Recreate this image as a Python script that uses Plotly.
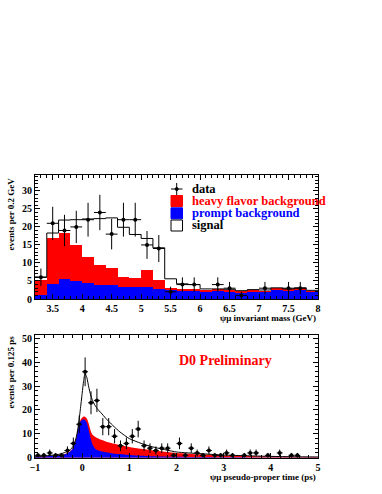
import numpy as np
import plotly.graph_objects as go

# ---- top panel: psi-mu invariant mass, 0.2 GeV bins from 3.2 to 8.0 ----
mass_centers = [3.3, 3.5, 3.7, 3.9, 4.1, 4.3, 4.5, 4.7, 4.9, 5.1, 5.3, 5.5,
                5.7, 5.9, 6.1, 6.3, 6.5, 6.7, 6.9, 7.1, 7.3, 7.5, 7.7, 7.9]
prompt_mass = [1.2, 4.2, 5.6, 4.9, 4.4, 3.8, 4.0, 3.3, 3.2, 3.2, 2.9, 2.6,
               2.3, 2.3, 2.1, 2.3, 2.2, 1.8, 2.2, 2.0, 2.7, 2.3, 2.7, 2.0]
heavy_mass = [4.2, 12.7, 12.7, 10.2, 7.3, 5.5, 4.5, 2.7, 2.6, 4.9, 2.5, 0.5,
              0.2, 0.2, 0.2, 0.2, 0.2, 0.2, 0.2, 0.2, 0.2, 0.2, 0.2, 0.2]
signal_mass = [0.7, 1.4, 3.6, 6.9, 10.5, 13.0, 14.0, 13.9, 12.1, 8.7, 8.8, 2.5,
               1.7, 1.5, 0.5, 0.3, 0.3, 0.3, 0.2, 0.3, 0.2, 0.3, 0.2, 0.2]
data_mass = [6, 21, 19, 20, 22, 24, 18, 22, 22, 15, 14, 2,
             4, 4, None, 4, 3, 1, None, 3, None, 3, 3, None]

# ---- bottom panel: pseudo-proper time ----
t_curve = [-1.0, -0.75, -0.5, -0.35, -0.25, -0.18, -0.12, -0.08, -0.04, 0.0,
           0.03, 0.06, 0.1, 0.14, 0.18, 0.22, 0.27, 0.33, 0.4, 0.5, 0.65,
           0.8, 1.0, 1.25, 1.5, 2.0, 2.5, 3.0, 3.5, 4.0, 4.5, 5.0]
prompt_t = [0.3, 0.6, 0.9, 1.6, 2.6, 4.6, 8.5, 12.5, 15.0, 15.9,
            16.1, 15.8, 14.5, 11.5, 8.2, 5.5, 3.9, 3.1, 2.7, 2.3, 1.8,
            1.5, 1.1, 0.8, 0.6, 0.35, 0.25, 0.15, 0.1, 0.08, 0.05, 0.04]
background_t = [0.35, 0.65, 1.0, 1.7, 2.7, 4.8, 8.8, 13.0, 15.6, 16.8,
                17.3, 17.2, 16.4, 14.2, 11.3, 9.6, 8.8, 8.1, 7.5, 6.8, 6.0,
                5.3, 4.5, 3.7, 3.0, 2.0, 1.4, 0.95, 0.7, 0.5, 0.35, 0.25]
total_t = [0.4, 0.8, 1.4, 2.3, 3.4, 5.2, 9.0, 13.5, 20.0, 27.0,
           32.0, 35.3, 33.5, 29.5, 26.3, 24.0, 22.0, 20.3, 18.8, 16.5, 13.5,
           10.8, 8.0, 6.0, 4.5, 2.4, 1.7, 1.1, 0.8, 0.55, 0.4, 0.3]
t_centers = [-0.9375, -0.8125, -0.6875, -0.5625, -0.4375, -0.3125, -0.1875,
             -0.0625, 0.0625, 0.1875, 0.3125, 0.4375, 0.5625, 0.6875, 0.8125,
             0.9375, 1.0625, 1.1875, 1.3125, 1.4375, 1.5625, 1.6875, 1.8125,
             1.9375, 2.0625, 2.1875, 2.3125, 2.4375, 2.5625, 2.6875, 2.8125,
             2.9375, 3.0625, 3.1875, 3.4375, 3.5625, 3.6875, 3.9375, 4.1875,
             4.4375, 4.5625]
data_t = [1, 1, 2, 1, 1, 3, 6, 14, 36, 23, 24, 13, 13, 9, 5, 6, 9, 12, 5, 4,
          3, 4, 4, 1, 6, 1, 4, 2, 1, 3, 1, 1, 2, 1, 1, 2, 2, 1, 2, 1, 1]

FONT = "Liberation Serif"
W, H = 382, 494

fig = go.Figure()

# stacked histogram
fig.add_trace(go.Bar(x=mass_centers, y=prompt_mass, width=0.2,
                     marker=dict(color="#0000ff", line_width=0),
                     xaxis="x", yaxis="y"))
fig.add_trace(go.Bar(x=mass_centers, y=heavy_mass, width=0.2,
                     marker=dict(color="#ff0000", line_width=0),
                     xaxis="x", yaxis="y"))
tot_mass = np.array(prompt_mass) + np.array(heavy_mass) + np.array(signal_mass)
edges = list(np.array(mass_centers) - 0.1) + [mass_centers[-1] + 0.1]
fig.add_trace(go.Scatter(x=edges, y=list(tot_mass) + [tot_mass[-1]],
                         mode="lines", line=dict(color="black", width=1, shape="hv"),
                         xaxis="x", yaxis="y"))
dm = [np.nan if v is None else v for v in data_mass]
fig.add_trace(go.Scatter(x=mass_centers, y=dm, mode="markers",
                         marker=dict(color="black", size=4),
                         error_y=dict(type="data", array=np.sqrt(np.nan_to_num(dm)),
                                      color="black", thickness=1, width=0),
                         error_x=dict(type="constant", value=0.1, color="black",
                                      thickness=1, width=0),
                         xaxis="x", yaxis="y"))

# lifetime panel
fig.add_trace(go.Scatter(x=t_curve, y=background_t, mode="lines", fill="tozeroy",
                         fillcolor="#ff0000", line=dict(width=0, shape="spline", smoothing=0.6),
                         xaxis="x2", yaxis="y2"))
fig.add_trace(go.Scatter(x=t_curve, y=prompt_t, mode="lines", fill="tozeroy",
                         fillcolor="#0000ff", line=dict(width=0, shape="spline", smoothing=0.6),
                         xaxis="x2", yaxis="y2"))
fig.add_trace(go.Scatter(x=t_curve, y=total_t, mode="lines",
                         line=dict(color="black", width=1, shape="spline", smoothing=0.6),
                         xaxis="x2", yaxis="y2"))
fig.add_trace(go.Scatter(x=t_centers, y=data_t, mode="markers",
                         marker=dict(color="black", size=4),
                         error_y=dict(type="data", array=np.sqrt(data_t),
                                      color="black", thickness=1, width=0),
                         error_x=dict(type="constant", value=0.0625, color="black",
                                      thickness=1, width=0),
                         xaxis="x2", yaxis="y2"))

xdom = [35 / W, 318 / W]
axis_common = dict(showline=True, linecolor="black", linewidth=1, mirror="allticks",
                   ticks="inside", ticklen=5, tickcolor="black", showgrid=False,
                   zeroline=False, automargin=False,
                   tickfont=dict(family=FONT, size=10, color="black", weight="bold"))

fig.update_layout(
    width=W, height=H, margin=dict(l=0, r=0, t=0, b=0),
    paper_bgcolor="white", plot_bgcolor="white",
    showlegend=False, barmode="stack", bargap=0,
    xaxis=dict(axis_common, domain=xdom, range=[3.2, 8.0], dtick=0.5, tick0=3.5,
               anchor="y", minor=dict(ticks="inside", ticklen=3, dtick=0.1, tickcolor="black")),
    yaxis=dict(axis_common, domain=[(H - 299) / H, (H - 175) / H], range=[0, 34.4],
               dtick=5, anchor="x", minor=dict(ticks="inside", ticklen=3, dtick=1, tickcolor="black")),
    xaxis2=dict(axis_common, domain=xdom, range=[-1, 5], dtick=1,
                anchor="y2", minor=dict(ticks="inside", ticklen=3, dtick=0.2, tickcolor="black")),
    yaxis2=dict(axis_common, domain=[(H - 457.7) / H, (H - 335) / H], range=[0, 51.4],
                dtick=10, anchor="x2", minor=dict(ticks="inside", ticklen=3, dtick=2, tickcolor="black")),
)

def px(x):
    return x / W

def py(y):
    return (H - y) / H

ann = []
tf = dict(family=FONT, size=9, color="black")
ann.append(dict(x=px(318), y=py(318), text="<b>ψμ invariant mass (GeV)</b>", xanchor="right",
                yanchor="middle", font=tf))
ann.append(dict(x=px(318), y=py(477), text="<b>ψμ pseudo-proper time (ps)</b>", xanchor="right",
                yanchor="middle", font=tf))
ann.append(dict(x=px(10), y=py(176), text="<b>events per 0.2 GeV</b>", textangle=-90,
                xanchor="center", yanchor="top", font=tf))
ann.append(dict(x=px(10), y=py(334), text="<b>events per 0.125 ps</b>", textangle=-90,
                xanchor="center", yanchor="top", font=tf))
ann.append(dict(x=px(177), y=py(360), text="<b>D0 Preliminary</b>", xanchor="left",
                yanchor="middle", font=dict(family=FONT, size=14, color="#ff0000")))

leg = [("data", "black", 189), ("heavy flavor background", "#ff0000", 201),
       ("prompt background", "#0000ff", 213.3), ("signal", "black", 225.5)]
for text, col, yc in leg:
    ann.append(dict(x=px(191), y=py(yc), text="<b>%s</b>" % text, xanchor="left",
                    yanchor="middle", borderpad=0,
                    font=dict(family=FONT, size=12.5, color=col)))
for a in ann:
    a.update(xref="paper", yref="paper", showarrow=False)
fig.update_layout(annotations=ann)

shapes = []
# data legend marker
shapes.append(dict(type="line", x0=px(171), x1=px(182.5), y0=py(189), y1=py(189)))
shapes.append(dict(type="line", x0=px(176.7), x1=px(176.7), y0=py(183), y1=py(195)))
shapes.append(dict(type="circle", x0=px(175.2), x1=px(178.2), y0=py(187.5), y1=py(190.5),
                   fillcolor="black"))
for col, yc in [("#ff0000", 201), ("#0000ff", 213.3), ("white", 225.5)]:
    shapes.append(dict(type="rect", x0=px(171), x1=px(182.5), y0=py(yc - 5.5), y1=py(yc + 5.5),
                       fillcolor=col, line=dict(color="black" if col == "white" else col, width=1)))
for s in shapes:
    s.update(xref="paper", yref="paper")
    s.setdefault("line", dict(color="black", width=1))
fig.update_layout(shapes=shapes)

# page has a default body margin; drop it so the figure sits at the window corner
fig.write_html("out.html", config={"displayModeBar": False},
               post_script="document.body.style.margin='0';")
